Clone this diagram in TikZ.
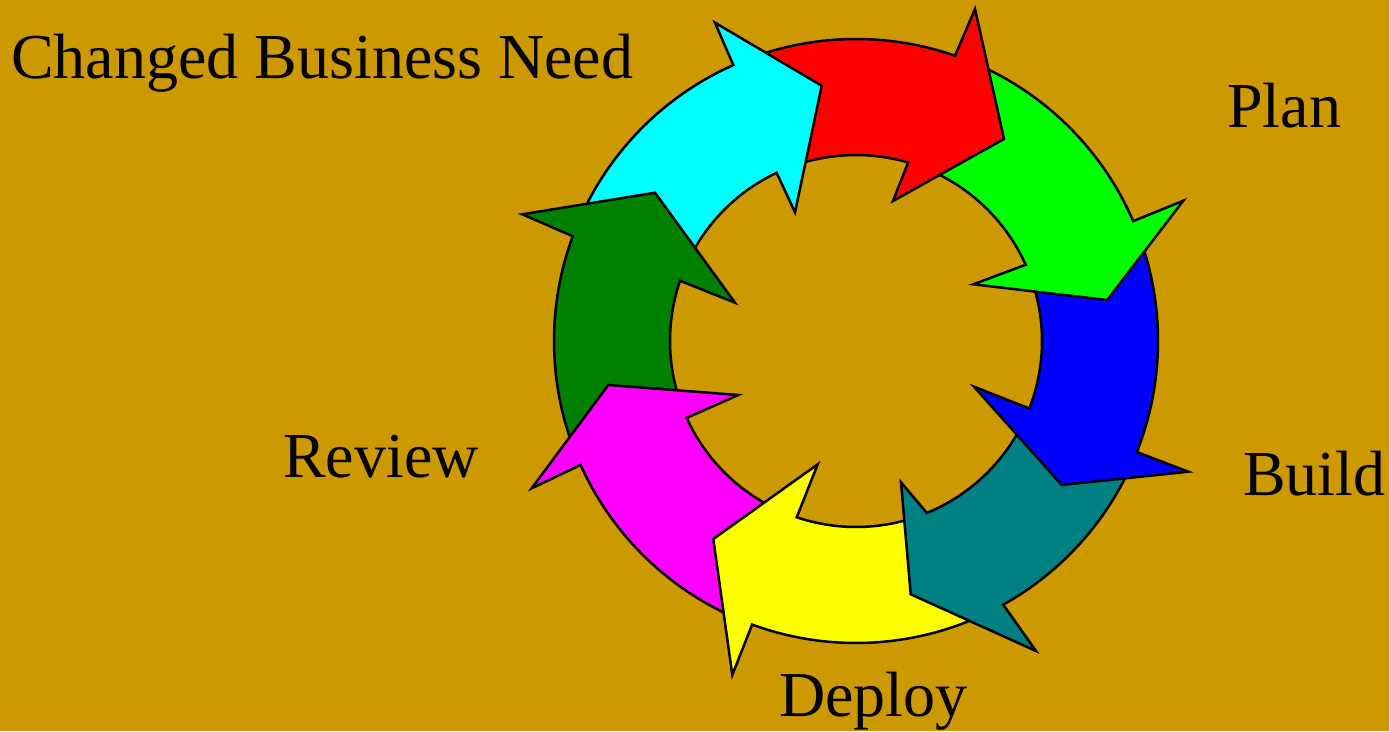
\documentclass[tikz,border=0pt]{standalone}
\usepackage{fontspec}
\setmainfont{Liberation Serif}
\definecolor{bgc}{HTML}{CC9900}
\definecolor{redc}{HTML}{FF0000}
\definecolor{limec}{HTML}{00FF00}
\definecolor{bluec}{HTML}{0000FF}
\definecolor{tealc}{HTML}{008080}
\definecolor{yelc}{HTML}{FFFF00}
\definecolor{magc}{HTML}{FF00FF}
\definecolor{dkgc}{HTML}{008000}
\definecolor{cyanc}{HTML}{00FFFF}
% #1 arrow id, #2 previous arrow id, #3 tail outer angle, #4 head base outer angle,
% #5 head base inner angle, #6 tail inner angle, #7 path options
\newcommand\ringarrow[7]{%
  \begin{scope}
    \clip (-420,-420) -- (420,-420) -- (420,420) -- (-420,420) -- cycle
          (Bo#2) -- (T#2) -- (Bi#2) -- cycle;
    \path[#7] (#3:302) arc[start angle=#3, end angle=#4, radius=302]
      -- (Bo#1) -- (T#1) -- (Bi#1) -- (#5:186)
      arc[start angle=#5, end angle=#6, radius=186] -- cycle;
  \end{scope}}
\newcommand\allarrows[1]{%
  \ringarrow{1}{8}{111.47}{70.85}{73.72}{112.77}{#1=redc}
  \ringarrow{2}{1}{68.35}{23.38}{24.20}{71.22}{#1=limec}
  \ringarrow{3}{2}{20.88}{-21.57}{-21.26}{21.70}{#1=bluec}
  \ringarrow{4}{3}{-24.07}{-60.82}{-67.6}{-23.76}{#1=tealc}
  \ringarrow{5}{4}{-63.32}{-110.12}{-108.59}{-70.1}{#1=yelc}
  \ringarrow{6}{5}{-112.62}{-155.77}{-155.57}{-111.09}{#1=magc}
  \ringarrow{7}{6}{-158.27}{-200.30}{-198.91}{-158.07}{#1=dkgc}
  \ringarrow{8}{7}{157.2}{113.97}{115.27}{158.59}{#1=cyanc}}
\begin{document}
\begin{tikzpicture}[x=1pt,y=1pt,
  lbl/.style={anchor=base west, inner sep=0pt, font=\fontsize{64}{70}\selectfont},
  strokepass/.style={draw=black, line width=2.5pt, line join=miter}]
\useasboundingbox (0,0) rectangle (1389,-731);
\fill[bgc] (0,0) rectangle (1389,-731);
\begin{scope}[shift={(856,-341)}]
  % head points: outer barb, tip, inner barb
  \coordinate (Bo1) at (119,332);    \coordinate (T1) at (148,202);    \coordinate (Bi1) at (37,140);
  \coordinate (Bo2) at (327.3,140.3); \coordinate (T2) at (251.3,41);   \coordinate (Bi2) at (117.3,56.7);
  \coordinate (Bo3) at (332.3,-130.7);\coordinate (T3) at (205.7,-144); \coordinate (Bi3) at (118,-45.7);
  \coordinate (Bo4) at (180,-310);    \coordinate (T4) at (54.7,-253.3);\coordinate (Bi4) at (45,-141.3);
  \coordinate (Bo5) at (-123.7,-334); \coordinate (T5) at (-142.7,-198);\coordinate (Bi5) at (-38.3,-123.3);
  \coordinate (Bo6) at (-324.3,-147.3);\coordinate (T6) at (-247.7,-44);\coordinate (Bi6) at (-117.7,-54);
  \coordinate (Bo7) at (-333.7,126.7);\coordinate (T7) at (-201,148.3); \coordinate (Bi7) at (-121,38.3);
  \coordinate (Bo8) at (-141,318.3);  \coordinate (T8) at (-34.3,255.3);\coordinate (Bi8) at (-61,128.7);
  \allarrows{fill}
  \allarrows{strokepass}
\end{scope}
\node[lbl] (need) at (11,-78) {Changed Business Need};
\node[lbl] (plan) at (1227,-127) {Plan};
\node[lbl] (build) at (1243,-495) {Build};
\node[lbl] (deploy) at (779,-716) {Deploy};
\node[lbl] (review) at (283,-477) {Review};
\end{tikzpicture}
\end{document}
